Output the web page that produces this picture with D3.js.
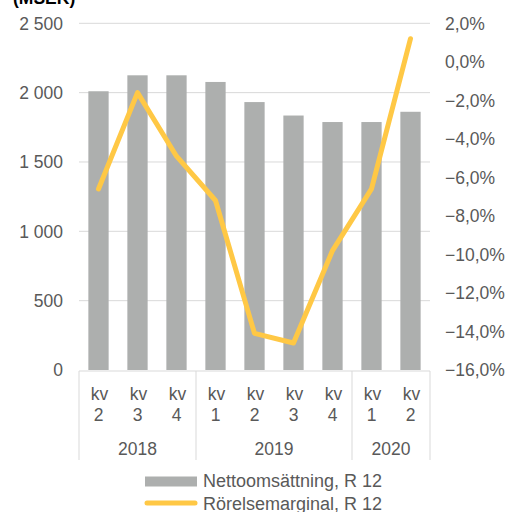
<!DOCTYPE html>
<html>
<head>
<meta charset="utf-8">
<script src="https://cdn.jsdelivr.net/npm/d3@7"></script>
<style>
  body { margin: 0; background: #fff; }
  svg { display: block; font-family: "Liberation Sans", Arial, sans-serif; }
</style>
</head>
<body>
<svg id="chart" width="506" height="512"></svg>
<script>
// data
var quarters = ["kv 2", "kv 3", "kv 4", "kv 1", "kv 2", "kv 3", "kv 4", "kv 1", "kv 2"];
var years = [
  {label: "2018", from: 0, to: 3},
  {label: "2019", from: 3, to: 7},
  {label: "2020", from: 7, to: 9}
];
var nettoomsattning = [2010, 2125, 2125, 2077, 1932, 1835, 1788, 1788, 1862];
var rorelsemarginal = [-6.6, -1.6, -4.9, -7.2, -14.1, -14.6, -9.8, -6.6, 1.2];
var leftTicks = [0, 500, 1000, 1500, 2000, 2500];
var rightTicks = [-16, -14, -12, -10, -8, -6, -4, -2, 0, 2];

var textColor = "#595959";
var gridColor = "#d9d9d9";
var barColor = "#adafae";
var lineColor = "#ffc845";
var fs = 17.5;

var svg = d3.select("#chart");

var x = d3.scaleBand()
    .domain(d3.range(quarters.length))
    .range([79, 430])
    .paddingInner(0.48)
    .paddingOuter(0.24);

var step = x.step();

var yL = d3.scaleLinear().domain([0, 2500]).range([370, 23.3]);
var yR = d3.scaleLinear().domain([-16, 2]).range([370, 23.3]);

var fmtL = function(d) { return d3.format(",")(d).replace(/,/g, " "); };
var fmtR = function(d) { return d3.format(".1f")(d).replace(".", ",") + "%"; };

// title
svg.append("text")
    .attr("x", 13)
    .attr("y", 4)
    .attr("font-size", fs)
    .attr("font-weight", "bold")
    .attr("fill", "#000")
    .text("(MSEK)");

// gridlines
svg.append("g")
  .selectAll("line")
  .data(leftTicks.filter(function(d) { return d > 0; }))
  .join("line")
    .attr("x1", 79).attr("x2", 430)
    .attr("y1", function(d) { return yL(d); })
    .attr("y2", function(d) { return yL(d); })
    .attr("stroke", gridColor)
    .attr("stroke-width", 1);

// left axis labels
svg.append("g")
  .selectAll("text")
  .data(leftTicks)
  .join("text")
    .attr("x", 63)
    .attr("y", function(d) { return yL(d) + 6.3; })
    .attr("text-anchor", "end")
    .attr("font-size", fs)
    .attr("fill", textColor)
    .text(fmtL);

// right axis labels
svg.append("g")
  .selectAll("text")
  .data(rightTicks)
  .join("text")
    .attr("x", 445)
    .attr("y", function(d) { return yR(d) + 6.3; })
    .attr("font-size", fs)
    .attr("fill", textColor)
    .text(fmtR);

// bars
svg.append("g")
  .selectAll("rect")
  .data(nettoomsattning)
  .join("rect")
    .attr("x", function(d, i) { return x(i); })
    .attr("y", function(d) { return yL(d); })
    .attr("width", x.bandwidth())
    .attr("height", function(d) { return yL(0) - yL(d); })
    .attr("fill", barColor);

// category axis
var axis = svg.append("g").attr("stroke", gridColor).attr("stroke-width", 1);
axis.append("line")
    .attr("x1", 79).attr("x2", 430)
    .attr("y1", 371).attr("y2", 371);
var bounds = [0].concat(years.map(function(d) { return d.to; }));
axis.selectAll("line.sep")
  .data(bounds)
  .join("line")
    .attr("class", "sep")
    .attr("x1", function(d) { return 79 + d * step; })
    .attr("x2", function(d) { return 79 + d * step; })
    .attr("y1", 371).attr("y2", 460);

var qLabels = svg.append("g")
  .selectAll("text")
  .data(quarters)
  .join("text")
    .attr("text-anchor", "middle")
    .attr("font-size", fs)
    .attr("fill", textColor);
qLabels.append("tspan")
    .attr("x", function(d, i) { return x(i) + x.bandwidth() / 2 + 1; })
    .attr("y", 399.5)
    .text(function(d) { return d.split(" ")[0]; });
qLabels.append("tspan")
    .attr("x", function(d, i) { return x(i) + x.bandwidth() / 2; })
    .attr("y", 421)
    .text(function(d) { return d.split(" ")[1]; });

svg.append("g")
  .selectAll("text")
  .data(years)
  .join("text")
    .attr("x", function(d) { return 79 + (d.from + d.to) / 2 * step; })
    .attr("y", 455)
    .attr("text-anchor", "middle")
    .attr("font-size", fs)
    .attr("fill", textColor)
    .text(function(d) { return d.label; });

// line
var line = d3.line()
    .x(function(d, i) { return x(i) + x.bandwidth() / 2; })
    .y(function(d) { return yR(d); });

svg.append("path")
    .datum(rorelsemarginal)
    .attr("fill", "none")
    .attr("stroke", lineColor)
    .attr("stroke-width", 5)
    .attr("stroke-linejoin", "round")
    .attr("stroke-linecap", "round")
    .attr("d", line);

// legend
var legend = svg.append("g");
legend.append("rect")
    .attr("x", 145).attr("y", 476.5)
    .attr("width", 52).attr("height", 10)
    .attr("fill", barColor);
legend.append("text")
    .attr("x", 203).attr("y", 487)
    .attr("font-size", 18)
    .attr("fill", textColor)
    .text("Nettoomsättning, R 12");
legend.append("line")
    .attr("x1", 147).attr("x2", 195)
    .attr("y1", 503).attr("y2", 503)
    .attr("stroke", lineColor)
    .attr("stroke-width", 5)
    .attr("stroke-linecap", "round");
legend.append("text")
    .attr("x", 203).attr("y", 510)
    .attr("font-size", 18)
    .attr("fill", textColor)
    .text("Rörelsemarginal, R 12");
</script>
</body>
</html>
